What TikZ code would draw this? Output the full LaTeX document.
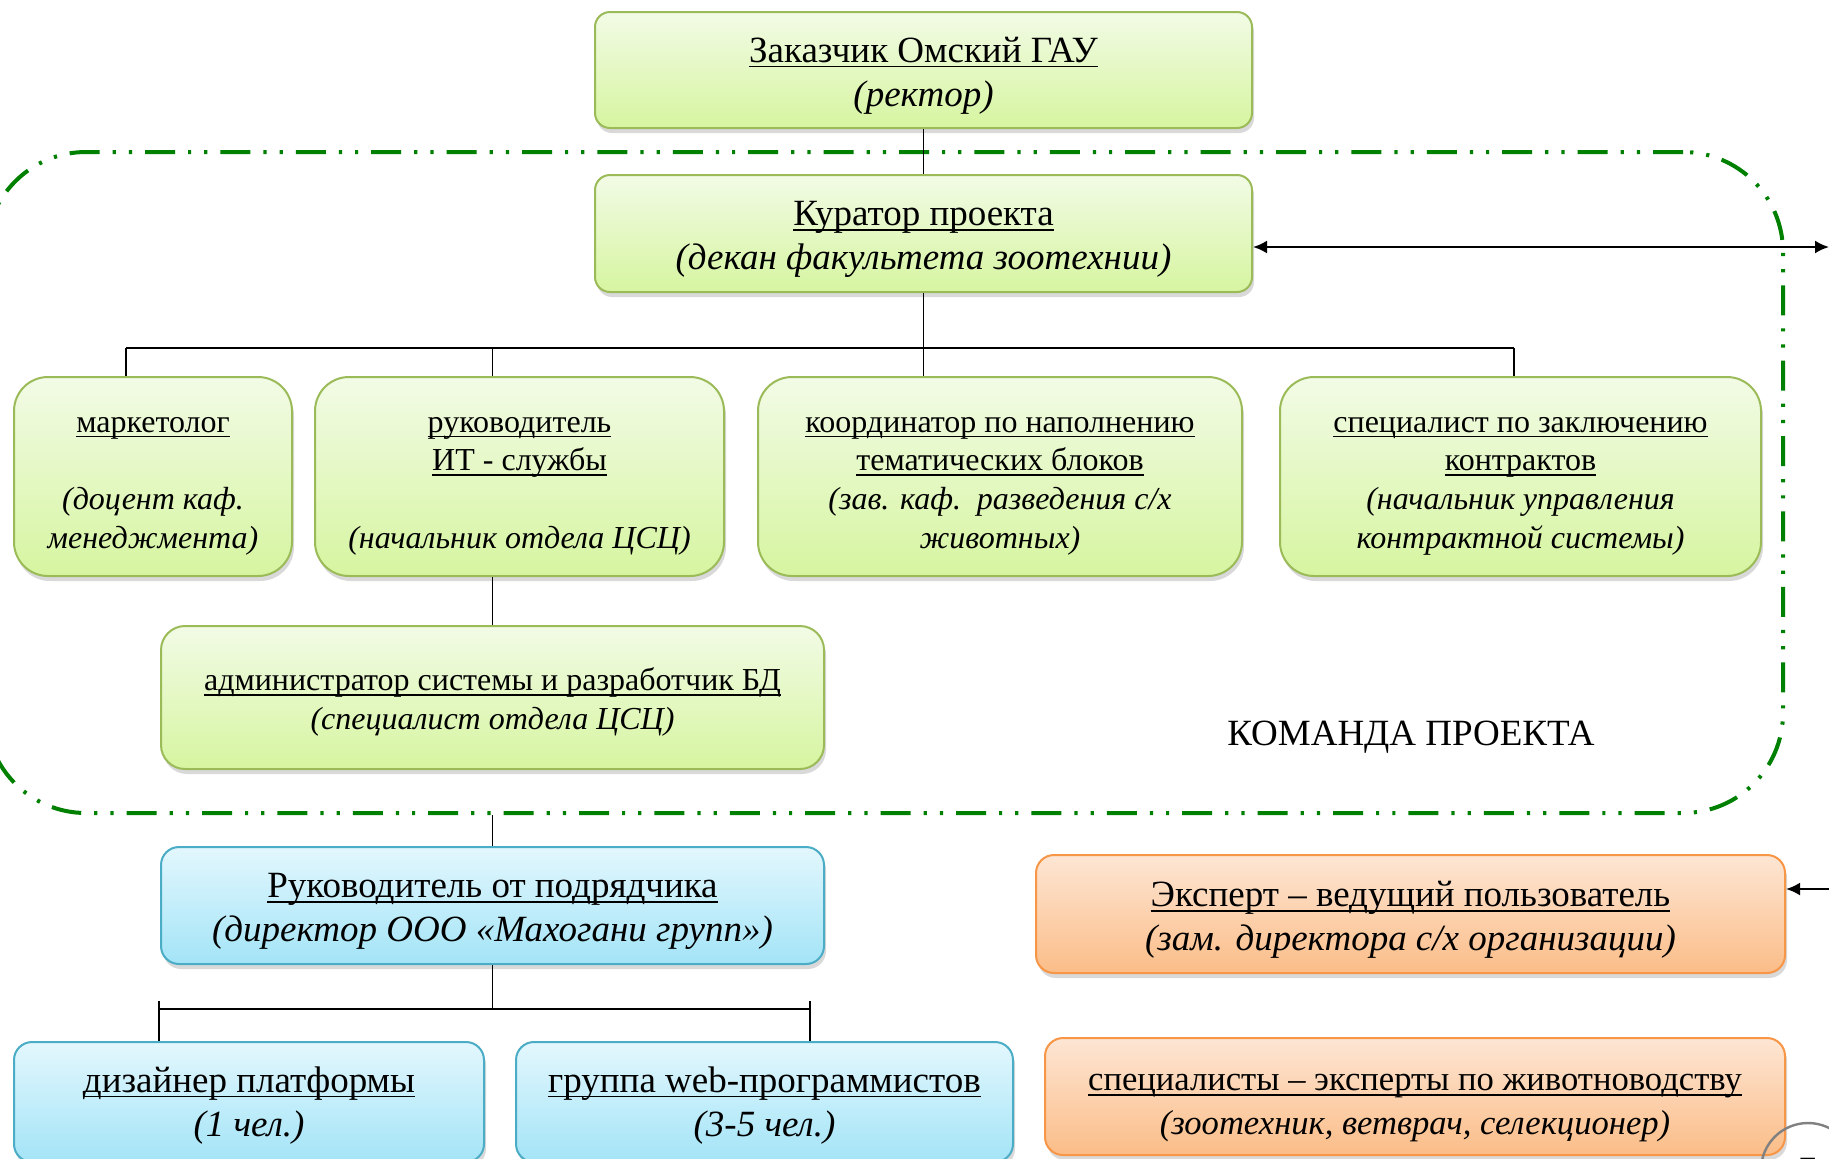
\documentclass[tikz,border=0pt]{standalone}
\usepackage{fontspec}
\setmainfont{Liberation Serif}
\usetikzlibrary{shadows,calc,arrows.meta}

\definecolor{grnTop}{HTML}{F2FBE6}
\definecolor{grnBot}{HTML}{D6F5A0}
\definecolor{grnLine}{HTML}{9BBB59}
\definecolor{bluTop}{HTML}{E3F7FD}
\definecolor{bluBot}{HTML}{A3E4F7}
\definecolor{bluLine}{HTML}{4BACC6}
\definecolor{orgTop}{HTML}{FDE6D4}
\definecolor{orgBot}{HTML}{FBBD88}
\definecolor{orgLine}{HTML}{F79646}
\definecolor{teamGreen}{HTML}{008000}

% underlined title line
\newcommand{\uln}[1]{\setbox0\hbox{#1}\rlap{\rule[-2.6pt]{\wd0}{0.8pt}}\box0}
% extra room above the first line
\newcommand{\pad}[1]{\rule{0pt}{#1}}

\tikzset{
	box/.style={draw, line width=1pt, align=center, inner sep=0pt,
		drop shadow={shadow xshift=1pt, shadow yshift=-2.5pt, opacity=.3}},
	bigtext/.style={font=\fontsize{18.5}{22}\selectfont},
	smalltext/.style={font=\fontsize{16}{19.3}\selectfont},
	greenbox/.style={box, draw=grnLine, top color=grnTop, bottom color=grnBot},
	bluebox/.style={box, bigtext, draw=bluLine, top color=bluTop, bottom color=bluBot, rounded corners=9pt},
	orangebox/.style={box, bigtext, draw=orgLine, top color=orgTop, bottom color=orgBot, rounded corners=9pt},
	link/.style={draw, line width=0.8pt},
	teamframe/.style={draw=teamGreen, line width=2pt, rounded corners=50pt, inner sep=0pt,
		dash pattern=on 15pt off 6.5pt on 1.6pt off 6.5pt on 1.6pt off 6.5pt}
}

\begin{document}
\begin{tikzpicture}[x=0.5pt, y=-0.5pt]
	\useasboundingbox (0,0) rectangle (1829,1158);
	\node[teamframe, minimum width=898.5pt, minimum height=330.5pt] (team) at (884.5,482.5) {};
	\node[bigtext] (teamlabel) at (1411,737) {КОМАНДА ПРОЕКТА};
	\node[greenbox, bigtext, rounded corners=7.5pt, minimum width=328.5pt, minimum height=58pt] (zak) at (923.5,70)
		{\pad{18pt}\uln{Заказчик Омский ГАУ}\\\textit{(ректор)}};
	\node[greenbox, bigtext, rounded corners=7.5pt, minimum width=328.5pt, minimum height=58.5pt] (kur) at (923.5,233.5)
		{\pad{18pt}\uln{Куратор проекта}\\\textit{(декан факультета зоотехнии)}};
	\node[greenbox, smalltext, rounded corners=17pt, minimum width=139pt, minimum height=99.5pt] (mark) at (153,476.5)
		{\pad{17pt}\uln{маркетолог}\\[19.3pt]\textit{(доцент каф.}\\\textit{менеджмента)}};
	\node[greenbox, smalltext, rounded corners=17pt, minimum width=204.5pt, minimum height=99.5pt] (ruk) at (519.5,476.5)
		{\pad{17pt}\uln{руководитель}\\\uln{ИТ - службы}\\[19.3pt]\textit{(начальник отдела ЦСЦ)}};
	\node[greenbox, smalltext, rounded corners=17pt, minimum width=242pt, minimum height=99.5pt] (koord) at (1000,476.5)
		{\pad{17pt}\uln{координатор по наполнению}\\\uln{тематических блоков}\\\textit{(зав. каф.\ \ разведения с/х}\\\textit{животных)}};
	\node[greenbox, smalltext, rounded corners=17pt, minimum width=240.5pt, minimum height=99.5pt] (spec) at (1520.5,476.5)
		{\pad{17pt}\uln{специалист по заключению}\\\uln{контрактов}\\\textit{(начальник управления}\\\textit{контрактной системы)}};
	\node[greenbox, smalltext, rounded corners=12pt, minimum width=331.5pt, minimum height=71.5pt] (adm) at (492.5,697.5)
		{\pad{16pt}\uln{администратор системы и разработчик БД}\\\textit{(специалист отдела ЦСЦ)}};
	\node[bluebox, minimum width=331.5pt, minimum height=58.5pt] (pod) at (492.5,905.5)
		{\pad{18pt}\uln{Руководитель от подрядчика}\\\textit{(директор ООО «Махогани групп»)}};
	\node[bluebox, minimum width=235pt, minimum height=60pt] (diz) at (249,1102)
		{\pad{16pt}\uln{дизайнер платформы}\\\textit{(1 чел.)}};
	\node[bluebox, minimum width=248.5pt, minimum height=60pt] (grp) at (764.5,1102)
		{\pad{16pt}\uln{группа web-программистов}\\\textit{(3-5 чел.)}};
	\node[orangebox, minimum width=374.5pt, minimum height=59pt] (exp) at (1410.5,914)
		{\pad{18.5pt}\uln{Эксперт – ведущий пользователь}\\\textit{(зам. директора с/х организации)}};
	\node[orangebox, font=\fontsize{17.3}{22}\selectfont, minimum width=370pt, minimum height=58.5pt] (spez) at (1415,1096.5)
		{\pad{20pt}\uln{специалисты – эксперты по животноводству}\\\textit{(зоотехник, ветврач, селекционер)}};

	% tree of the project team
	\coordinate (busL) at (126,348);
	\coordinate (busR) at (1514,348);
	\path[link] (zak) -- (kur);
	\path[link] (busL) -- (busR);
	\path[link] (kur.south) -- (kur.south |- koord.north);
	\path[link] (busL) -- (busL |- mark.north);
	\path[link] (adm.north |- busL) -- (adm.north |- ruk.north);
	\path[link] (busR) -- (busR |- spec.north);
	\path[link] (adm.north |- ruk.south) -- (adm.north);

	% contractor side
	\coordinate (busBL) at (159,1009);
	\coordinate (busBR) at (810,1009);
	\path[link] (pod.north |- team.south) -- (pod.north);
	\path[link] (pod.south) -- (pod.south |- busBL);
	\path[link] (busBL) -- (busBR);
	\path[link] ($(busBL)+(0,-8)$) -- (busBL |- diz.north);
	\path[link] ($(busBR)+(0,-8)$) -- (busBR |- grp.north);

	% experts
	\path[link] ($(exp.south)+(47,0)$) -- ($(exp.south)+(47,0)$ |- spez.north);

	% arrows to the right edge
	\coordinate (arrK) at (1829,247);
	\coordinate (arrE) at (1829,889);
	\draw[line width=1.1pt, {Latex[length=7pt,width=6.5pt]}-{Latex[length=7pt,width=6.5pt]}] (arrK -| kur.east) -- (arrK);
	\draw[line width=1.1pt, -{Latex[length=7pt,width=6.5pt]}] (arrE) -- (arrE -| exp.east);

	% page number
	\draw[gray, line width=1.2pt] (1808,1170) circle (23.5pt);
	\node[font=\fontsize{18.5}{22}\sffamily] (pagenum) at (1808,1170) {7};
\end{tikzpicture}
\end{document}
